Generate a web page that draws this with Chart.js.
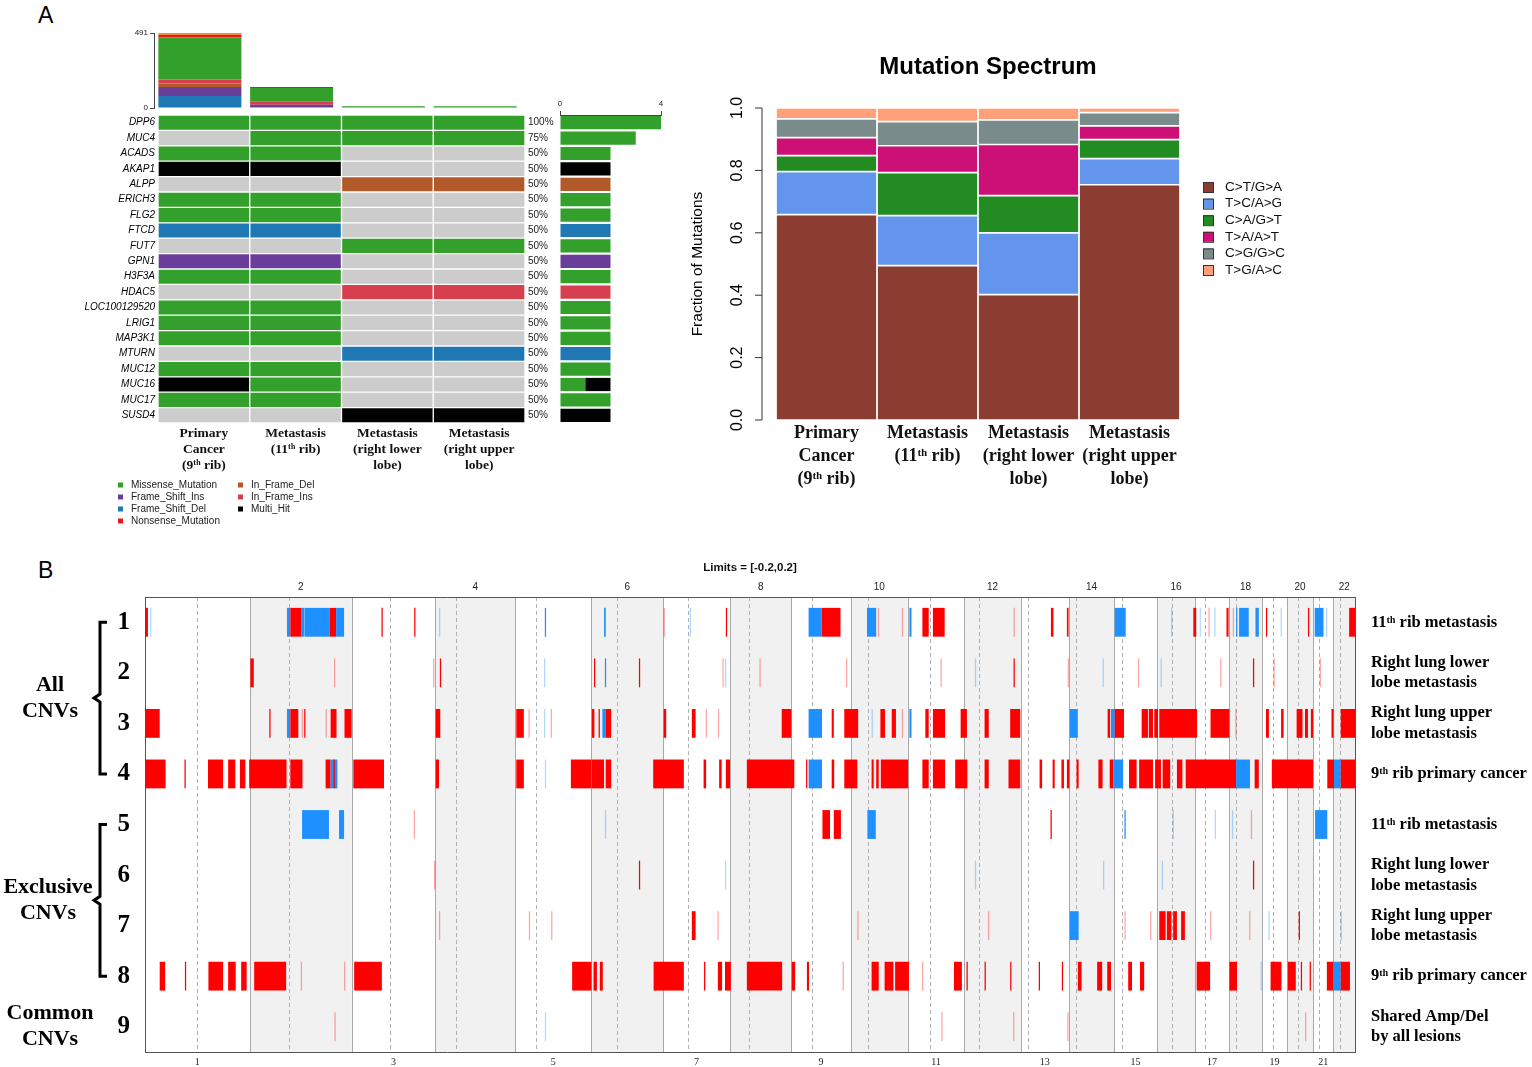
<!DOCTYPE html>
<html>
<head>
<meta charset="utf-8">
<script src="https://cdn.jsdelivr.net/npm/chart.js@4.4.0/dist/chart.umd.min.js"></script>
<style>
body { margin: 0; background: #fff; width: 1532px; height: 1067px; position: relative; overflow: hidden; font-family: "Liberation Sans", Arial, sans-serif; }
.box { position: absolute; }
.letter { position: absolute; font-size: 23px; color: #000; }
</style>
</head>
<body>
<div class="letter" style="left:38px;top:2px">A</div>
<div class="letter" style="left:38px;top:557px">B</div>
<div class="box" style="left:100px;top:20px;width:430px;height:95px"><canvas id="tmbChart"></canvas></div>
<div class="box" style="left:20px;top:112px;width:540px;height:420px"><canvas id="oncoChart"></canvas></div>
<div class="box" style="left:555px;top:90px;width:115px;height:340px"><canvas id="countChart"></canvas></div>
<div class="box" style="left:680px;top:40px;width:620px;height:460px"><canvas id="spectrumChart"></canvas></div>
<div class="box" style="left:0px;top:555px;width:1532px;height:512px"><canvas id="cnvChart"></canvas></div>
<script>
// ---- panel A: oncoplot data
var sampleIds = ["P9", "M11", "MRLL", "MRUL"];
var sampleLabels = [["Primary", "Cancer", "(9\u1d57\u02b0 rib)"], ["Metastasis", "(11\u1d57\u02b0 rib)"],
  ["Metastasis", "(right lower", "lobe)"], ["Metastasis", "(right upper", "lobe)"]];

var genes = ["DPP6", "MUC4", "ACADS", "AKAP1", "ALPP", "ERICH3", "FLG2", "FTCD", "FUT7", "GPN1",
  "H3F3A", "HDAC5", "LOC100129520", "LRIG1", "MAP3K1", "MTURN", "MUC12", "MUC16", "MUC17", "SUSD4"];
var primaryCalls = ["M", "", "M", "MH", "", "M", "M", "FSD", "", "FSI", "M", "", "M", "M", "M", "", "M", "MH", "M", ""];
var rib11Calls = ["M", "M", "M", "MH", "", "M", "M", "FSD", "", "FSI", "M", "", "M", "M", "M", "", "M", "M", "M", ""];
var lowerLobeCalls = ["M", "M", "", "", "IFD", "", "", "", "M", "", "", "IFI", "", "", "", "FSD", "", "", "", "MH"];
var upperLobeCalls = ["M", "M", "", "", "IFD", "", "", "", "M", "", "", "IFI", "", "", "", "FSD", "", "", "", "MH"];

var mutCodes = ["M", "FSI", "FSD", "NS", "IFD", "IFI", "MH"];
var mutNames = ["Missense_Mutation", "Frame_Shift_Ins", "Frame_Shift_Del", "Nonsense_Mutation", "In_Frame_Del", "In_Frame_Ins", "Multi_Hit"];
var mutColors = ["#33a02c", "#6a3d9a", "#1f78b4", "#e31a1c", "#b15928", "#d6404e", "#000000"];

// mutations per sample (stack bottom -> top)
var tmbMax = 491;
var tmbFSD = [78, 7, 0, 0];
var tmbFSI = [60, 15, 0, 0];
var tmbIFD = [22, 0, 6, 6];
var tmbIFI = [26, 22, 0, 0];
var tmbMissense = [275, 87, 6, 6];
var tmbNonsense = [18, 7, 0, 0];
var tmbOther = [12, 0, 0, 0];

// ---- panel A: mutation spectrum
var spectrumClasses = ["C>T/G>A", "T>C/A>G", "C>A/G>T", "T>A/A>T", "C>G/G>C", "T>G/A>C"];
var spectrumColors = ["#8a3d30", "#6495ed", "#228b22", "#cd1076", "#7a8b8b", "#ffa07a"];
var ctGa = [0.658, 0.495, 0.402, 0.754];
var tcAg = [0.138, 0.160, 0.198, 0.084];
var caGt = [0.051, 0.138, 0.119, 0.061];
var taAt = [0.058, 0.086, 0.164, 0.044];
var cgGc = [0.060, 0.077, 0.079, 0.042];
var tgAc = [0.035, 0.044, 0.038, 0.015];
var spectrumTicks = [0, 0.2, 0.4, 0.6, 0.8, 1.0];

// ---- panel B: CNV (hg19, Mb)
var chrNames = ["1", "2", "3", "4", "5", "6", "7", "8", "9", "10", "11", "12", "13", "14", "15", "16", "17", "18", "19", "20", "21", "22"];
var chrLen = [249.3, 243.2, 198.0, 191.2, 180.9, 171.1, 159.1, 146.4, 141.2, 135.5, 135.0, 133.9, 115.2, 107.3, 102.5, 90.4, 81.2, 78.1, 59.1, 63.0, 48.1, 51.3];
var chrCentromere = [125.0, 93.3, 91.0, 50.4, 48.4, 61.0, 59.9, 45.6, 49.0, 40.2, 53.7, 35.8, 17.9, 17.6, 19.0, 36.6, 24.0, 17.2, 26.5, 27.5, 13.2, 14.7];
var rowIds = ["1", "2", "3", "4", "5", "6", "7", "8", "9"];
var rowLabels = ["11\u1d57\u02b0 rib metastasis", ["Right lung lower", "lobe metastasis"], ["Right lung upper", "lobe metastasis"], "9\u1d57\u02b0 rib primary cancer",
  "11\u1d57\u02b0 rib metastasis", ["Right lung lower", "lobe metastasis"], ["Right lung upper", "lobe metastasis"], "9\u1d57\u02b0 rib primary cancer",
  ["Shared Amp/Del", "by all lesions"]];

// [start, end, level]  level >0 gain, <0 loss, 0.4 = weak
var cnvRow1 = [[0,7,1],[12,15,-0.4],[338,346,-1],[346,373,1],[373,380,-1],[381,440,-1],[440,455,1],[455,474,-1],[563,566,1],[641,644,1],[700,703,-0.4],[952,955,-1],[1093,1097,-1],[1235,1238,0.4],[1297,1300,-0.4],[1383,1386,1],[1580,1611,-1],[1611,1656,1],[1719,1741,-1],[1745,1748,0.4],[1802,1805,0.4],[1820,1825,-1],[1851,1866,1],[1876,1904,1],[2068,2071,0.4],[2157,2163,1],[2195,2199,1],[2309,2335,-1],[2443,2446,-0.4],[2496,2503,1],[2511,2514,-0.4],[2532,2535,0.4],[2546,2549,-0.4],[2575,2580,1],[2590,2593,0.4],[2598,2601,-1],[2605,2628,-1],[2644,2652,-1],[2669,2672,1],[2704,2707,-0.4],[2769,2772,1],[2785,2806,-1],[2812,2815,-0.4],[2867,2881,1]];
var cnvRow2 = [[251,259,1],[450,453,0.4],[686,689,0.4],[702,705,1],[950,953,-0.4],[1069,1072,1],[1095,1098,-1],[1176,1179,1],[1375,1378,0.4],[1381,1384,-0.4],[1463,1466,0.4],[1669,1672,0.4],[1894,1897,0.4],[1976,1979,-0.4],[2068,2071,1],[2197,2200,0.4],[2280,2283,-0.4],[2364,2367,0.4],[2418,2421,-0.4],[2560,2563,0.4],[2638,2641,1],[2687,2690,0.4],[2797,2800,0.4]];
var cnvRow3 = [[0,35,1],[296,299,1],[338,346,-1],[346,365,1],[373,376,0.4],[379,382,1],[430,433,0.4],[442,456,1],[475,492,1],[692,703,1],[884,902,1],[913,916,0.4],[950,953,-0.4],[966,969,0.4],[1064,1070,1],[1080,1083,1],[1089,1097,-1],[1097,1110,1],[1235,1241,1],[1302,1311,1],[1335,1338,0.4],[1364,1367,0.4],[1516,1539,1],[1580,1612,-1],[1635,1640,1],[1665,1698,1],[1730,1733,-0.4],[1751,1762,1],[1778,1788,1],[1802,1805,0.4],[1820,1825,-1],[1858,1866,1],[1876,1905,1],[1942,1957,1],[1999,2009,1],[2060,2084,1],[2202,2221,-1],[2292,2298,1],[2300,2309,-1],[2309,2331,1],[2373,2388,1],[2390,2400,1],[2403,2412,1],[2415,2505,1],[2537,2582,1],[2596,2599,0.4],[2669,2676,1],[2705,2711,1],[2742,2756,1],[2762,2769,1],[2776,2781,1],[2825,2830,1],[2847,2881,1]];
var cnvRow4 = [[0,49,1],[94,97,1],[150,186,1],[198,215,1],[226,239,1],[248,337,1],[346,375,1],[430,442,1],[442,458,-1],[449,452,1],[496,569,1],[692,700,1],[884,902,1],[952,955,-0.4],[1014,1063,1],[1064,1093,1],[1097,1110,1],[1210,1283,1],[1330,1336,1],[1367,1373,1],[1383,1393,1],[1433,1546,1],[1574,1577,1],[1580,1612,-1],[1635,1641,1],[1665,1696,1],[1730,1735,1],[1741,1747,1],[1752,1817,1],[1851,1866,1],[1876,1905,1],[1929,1958,1],[1999,2009,1],[2056,2084,1],[2130,2136,1],[2161,2166,1],[2182,2188,1],[2195,2201,1],[2218,2223,1],[2270,2280,1],[2297,2306,1],[2306,2329,-1],[2343,2361,1],[2367,2400,1],[2405,2419,1],[2423,2441,1],[2457,2470,1],[2478,2598,1],[2598,2631,-1],[2642,2652,1],[2683,2781,1],[2815,2831,1],[2831,2847,-1],[2847,2881,1]];
var cnvRow5 = [[374,438,-1],[462,474,-1],[640,643,0.4],[1095,1098,-0.4],[1613,1631,1],[1640,1657,1],[1720,1740,-1],[2156,2159,1],[2332,2335,-1],[2447,2450,-0.4],[2547,2550,-0.4],[2588,2591,-0.4],[2633,2636,0.4],[2786,2815,-1]];
var cnvRow6 = [[688,691,0.4],[1176,1179,1],[1381,1384,-0.4],[1976,1979,-0.4],[2281,2284,-0.4],[2421,2424,-0.4],[2638,2641,1]];
var cnvRow7 = [[700,703,0.4],[914,917,0.4],[967,970,0.4],[1302,1311,1],[1363,1366,0.4],[1696,1699,0.4],[2007,2010,0.4],[2202,2223,-1],[2332,2335,0.4],[2393,2396,0.4],[2415,2430,1],[2433,2444,1],[2448,2457,1],[2467,2476,1],[2536,2539,0.4],[2629,2632,0.4],[2675,2678,-0.4],[2747,2750,1],[2847,2850,-0.4]];
var cnvRow8 = [[35,48,1],[95,98,1],[151,186,1],[198,216,1],[229,242,1],[260,336,1],[371,374,0.4],[474,477,0.4],[498,564,1],[1017,1063,1],[1068,1076,1],[1083,1090,1],[1211,1283,1],[1331,1334,1],[1364,1374,1],[1381,1395,1],[1433,1517,1],[1540,1548,1],[1576,1581,1],[1661,1664,0.4],[1730,1747,1],[1761,1782,1],[1786,1819,1],[1850,1853,0.4],[1926,1945,1],[1956,1959,1],[1999,2002,1],[2060,2063,1],[2128,2131,1],[2183,2186,1],[2221,2230,1],[2267,2279,1],[2291,2300,1],[2341,2350,1],[2369,2379,1],[2504,2536,1],[2582,2600,1],[2656,2659,-0.4],[2680,2706,1],[2721,2740,1],[2752,2755,1],[2773,2776,1],[2814,2830,1],[2830,2847,-1],[2847,2869,1]];
var cnvRow9 = [[451,454,0.4],[952,955,-0.4],[1896,1899,0.4],[2067,2070,0.4],[2196,2199,0.4],[2762,2765,0.4]];

var SERIF = '"Liberation Serif", "DejaVu Serif", serif';
var SANS = '"Liberation Sans", Arial, sans-serif';
Chart.defaults.font.family = SANS;
Chart.defaults.color = '#000';
Chart.defaults.animation = false;
Chart.defaults.plugins.legend.display = false;
Chart.defaults.plugins.tooltip.enabled = false;
Chart.defaults.responsive = true;
Chart.defaults.maintainAspectRatio = false;

// fixed axis sizes so the plot areas land where the figure has them
function fixWidth(w) { return function(s) { s.width = w; s.paddingTop = 0; s.paddingBottom = 0; }; }
function fixHeight(h) { return function(s) { s.height = h; s.paddingLeft = 0; s.paddingRight = 0; }; }
function setTicks(vals) { return function(s) { s.ticks = vals.map(function(v) { return { value: v }; }); }; }
function mutColor(code) { return code ? mutColors[mutCodes.indexOf(code)] : '#cccccc'; }

var callsBySample = [primaryCalls, rib11Calls, lowerLobeCalls, upperLobeCalls];

// top bar: mutation load per sample
var tmbSeries = [tmbFSD, tmbFSI, tmbIFD, tmbIFI, tmbMissense, tmbNonsense, tmbOther];
var tmbColors = ["#1f78b4", "#6a3d9a", "#b15928", "#d6404e", "#33a02c", "#e31a1c", "#ff8c1a"];
new Chart(document.getElementById('tmbChart'), {
  type: 'bar',
  data: {
    labels: sampleIds,
    datasets: tmbSeries.map(function(d, i) {
      return { data: d, backgroundColor: tmbColors[i], barPercentage: 0.905, categoryPercentage: 1 };
    })
  },
  options: {
    layout: { padding: { left: 0, right: 9, top: 13, bottom: 7 } },
    scales: {
      x: { display: false, stacked: true },
      y: { stacked: true, min: 0, max: tmbMax, afterBuildTicks: setTicks([0, tmbMax]), afterFit: fixWidth(54),
        grid: { drawOnChartArea: false, tickLength: 4, color: '#444' }, border: { color: '#444' },
        ticks: { font: { size: 8 }, padding: 2, color: '#222' } }
    }
  }
});

// oncoplot grid
new Chart(document.getElementById('oncoChart'), {
  type: 'bar',
  data: {
    labels: genes,
    datasets: callsBySample.map(function(calls) {
      return {
        data: calls.map(function() { return 1; }),
        backgroundColor: calls.map(mutColor),
        borderColor: 'rgba(255,255,255,0.55)', borderWidth: 1, borderSkipped: false,
        barPercentage: 1, categoryPercentage: 1
      };
    })
  },
  options: {
    indexAxis: 'y',
    layout: { padding: { left: 0, right: 0, top: 3, bottom: 57 } },
    scales: {
      x: { stacked: true, min: 0, max: 4, afterBuildTicks: setTicks([0.5, 1.5, 2.5, 3.5]), afterFit: fixHeight(52),
        grid: { display: false, drawTicks: false }, border: { display: false },
        ticks: { autoSkip: false, maxRotation: 0, padding: 2, color: '#111',
          callback: function(v, i) { return sampleLabels[i]; },
          font: { family: SERIF, size: 13.5, weight: 'bold', lineHeight: 1.2 } } },
      y: { stacked: true, afterFit: fixWidth(138), grid: { display: false, drawTicks: false }, border: { display: false },
        ticks: { padding: 3, font: { size: 10, style: 'italic' } } },
      y2: { type: 'category', labels: genes, offset: true, position: 'right', afterFit: fixWidth(35),
        grid: { display: false, drawTicks: false }, border: { display: false },
        ticks: { padding: 3, font: { size: 10 }, color: '#222',
          callback: function(v, i) {
            var n = callsBySample.filter(function(c) { return c[i] !== ''; }).length;
            return Math.round(n / callsBySample.length * 100) + '%';
          } } }
    }
  },
  plugins: [{
    id: 'oncoLegend',
    afterDraw: function(chart) {
      var ctx = chart.ctx, ca = chart.chartArea;
      var cols = [[0, 1, 2, 3], [4, 5, 6]];
      ctx.save();
      ctx.font = '10px ' + SANS;
      ctx.textBaseline = 'middle';
      cols.forEach(function(items, c) {
        var lx = ca.left - 40 + c * 120;
        items.forEach(function(k, r) {
          var ly = ca.bottom + 62 + r * 12;
          ctx.fillStyle = mutColors[k];
          ctx.fillRect(lx, ly - 2.5, 5, 5);
          ctx.fillStyle = '#222';
          ctx.fillText(mutNames[k], lx + 13, ly);
        });
      });
      ctx.restore();
    }
  }]
});

// per-gene counts on the right
new Chart(document.getElementById('countChart'), {
  type: 'bar',
  data: {
    labels: genes,
    datasets: mutCodes.map(function(code, k) {
      return {
        data: genes.map(function(g, gi) {
          return callsBySample.filter(function(c) { return c[gi] === code; }).length;
        }),
        backgroundColor: mutColors[k], barPercentage: 0.86, categoryPercentage: 1
      };
    })
  },
  options: {
    indexAxis: 'y',
    layout: { padding: { left: 5, right: 9, top: 0, bottom: 7 } },
    scales: {
      x: { position: 'top', stacked: true, min: 0, max: 4, afterBuildTicks: setTicks([0, 4]), afterFit: fixHeight(25),
        grid: { drawOnChartArea: false, tickLength: 4, color: '#444' }, border: { color: '#444' },
        ticks: { font: { size: 8 }, padding: 2, color: '#222' } },
      y: { display: false, stacked: true }
    }
  }
});

// mutation spectrum
var spectrumSeries = [ctGa, tcAg, caGt, taAt, cgGc, tgAc];
new Chart(document.getElementById('spectrumChart'), {
  type: 'bar',
  data: {
    labels: sampleIds,
    datasets: spectrumSeries.map(function(d, i) {
      return { label: spectrumClasses[i], data: d, backgroundColor: spectrumColors[i],
        borderColor: '#ffffff', borderWidth: 1.2, borderSkipped: false, barPercentage: 1, categoryPercentage: 1 };
    })
  },
  options: {
    layout: { padding: { left: 96, right: 120, top: 68, bottom: 0 } },
    scales: {
      x: { stacked: true, afterFit: fixHeight(80), grid: { display: false, drawTicks: false }, border: { display: false },
        ticks: { autoSkip: false, maxRotation: 0, padding: 2, color: '#111',
          callback: function(v, i) { return sampleLabels[i]; },
          font: { family: SERIF, size: 18, weight: 'bold', lineHeight: 1.27 } } },
      y: { display: false, stacked: true, min: 0, max: 1 }
    }
  },
  plugins: [{
    id: 'spectrumDecor',
    afterDraw: function(chart) {
      var ctx = chart.ctx, ca = chart.chartArea, y = chart.scales.y;
      var ax = ca.left - 14;
      ctx.save();
      ctx.strokeStyle = '#333';
      ctx.lineWidth = 1;
      ctx.beginPath();
      ctx.moveTo(ax, y.getPixelForValue(0));
      ctx.lineTo(ax, y.getPixelForValue(1));
      spectrumTicks.forEach(function(v) {
        var py = y.getPixelForValue(v);
        ctx.moveTo(ax, py);
        ctx.lineTo(ax - 7, py);
      });
      ctx.stroke();
      ctx.fillStyle = '#000';
      ctx.font = '16px ' + SANS;
      ctx.textAlign = 'center';
      ctx.textBaseline = 'bottom';
      spectrumTicks.forEach(function(v) {
        ctx.save();
        ctx.translate(ax - 16, y.getPixelForValue(v));
        ctx.rotate(-Math.PI / 2);
        ctx.fillText(v.toFixed(1), 0, 0);
        ctx.restore();
      });
      ctx.save();
      ctx.translate(ca.left - 78, (ca.top + ca.bottom) / 2);
      ctx.rotate(-Math.PI / 2);
      ctx.textBaseline = 'middle';
      ctx.font = '15.5px ' + SANS;
      ctx.fillText('Fraction of Mutations', 0, 0);
      ctx.restore();
      ctx.font = 'bold 24px ' + SANS;
      ctx.textBaseline = 'middle';
      ctx.fillText('Mutation Spectrum', (ca.left + ca.right) / 2 + 10, ca.top - 41);
      // legend
      ctx.textAlign = 'left';
      ctx.font = '13.5px ' + SANS;
      spectrumClasses.forEach(function(name, i) {
        var lx = ca.right + 23, ly = ca.top + 79 + i * 16.6;
        ctx.fillStyle = spectrumColors[i];
        ctx.fillRect(lx, ly - 5, 10, 10);
        ctx.strokeStyle = '#333';
        ctx.strokeRect(lx + 0.5, ly - 4.5, 10, 10);
        ctx.fillStyle = '#111';
        ctx.fillText(name, lx + 22, ly);
      });
      ctx.restore();
    }
  }]
});

// ---- panel B
var chrStart = [];
var genomeLen = 0;
chrLen.forEach(function(l) { chrStart.push(genomeLen); genomeLen += l; });
var chrMid = chrStart.map(function(s, i) { return s + chrLen[i] / 2; });
var oddMid = chrMid.filter(function(m, i) { return i % 2 === 0; });
var evenMid = chrMid.filter(function(m, i) { return i % 2 === 1; });
var oddNames = chrNames.filter(function(n, i) { return i % 2 === 0; });
var evenNames = chrNames.filter(function(n, i) { return i % 2 === 1; });

var cnvRows = [cnvRow1, cnvRow2, cnvRow3, cnvRow4, cnvRow5, cnvRow6, cnvRow7, cnvRow8, cnvRow9];
var cnvPoints = [];
cnvRows.forEach(function(segs, r) {
  segs.forEach(function(s) { cnvPoints.push({ y: rowIds[r], x: [s[0], s[1]], v: s[2] }); });
});

function cnvColor(c) {
  var v = c.raw ? c.raw.v : 1;
  if (v >= 1) return '#ff0000';
  if (v > 0) return 'rgba(255,0,0,0.35)';
  if (v <= -1) return '#1e90ff';
  return 'rgba(30,144,255,0.35)';
}

new Chart(document.getElementById('cnvChart'), {
  type: 'bar',
  data: {
    labels: rowIds,
    datasets: [{ data: cnvPoints, backgroundColor: cnvColor, borderWidth: 0, barPercentage: 0.57, categoryPercentage: 1 }]
  },
  options: {
    indexAxis: 'y',
    layout: { padding: { left: 0, right: 0, top: 16, bottom: 0 } },
    scales: {
      x: { type: 'linear', min: 0, max: genomeLen, afterBuildTicks: setTicks(oddMid), afterFit: fixHeight(15),
        grid: { display: false, drawTicks: false }, border: { color: '#555' },
        ticks: { autoSkip: false, maxRotation: 0, padding: 4, color: '#222', font: { family: SERIF, size: 10 },
          callback: function(v, i) { return oddNames[i]; } } },
      x2: { type: 'linear', position: 'top', min: 0, max: genomeLen, afterBuildTicks: setTicks(evenMid), afterFit: fixHeight(26),
        grid: { display: false, drawTicks: false }, border: { color: '#555' },
        ticks: { autoSkip: false, maxRotation: 0, padding: 4, color: '#222', font: { size: 10 },
          callback: function(v, i) { return evenNames[i]; } } },
      y: { afterFit: fixWidth(145), grid: { display: false, drawTicks: false }, border: { color: '#555' },
        ticks: { padding: 15, font: { family: SERIF, size: 25, weight: 'bold' } } },
      y2: { type: 'category', labels: rowIds, offset: true, position: 'right', afterFit: fixWidth(177),
        grid: { display: false, drawTicks: false }, border: { color: '#555' },
        ticks: { padding: 16, font: { family: SERIF, size: 16.5, weight: 'bold', lineHeight: 1.25 },
          callback: function(v, i) { return rowLabels[i]; } } }
    }
  },
  plugins: [{
    id: 'genomeBackground',
    beforeDraw: function(chart) {
      var ctx = chart.ctx, ca = chart.chartArea, x = chart.scales.x;
      ctx.save();
      chrStart.forEach(function(s, i) {
        if (i % 2 === 1) {
          var x0 = x.getPixelForValue(s), x1 = x.getPixelForValue(s + chrLen[i]);
          ctx.fillStyle = '#f1f1f1';
          ctx.fillRect(x0, ca.top, x1 - x0, ca.bottom - ca.top);
        }
      });
      ctx.strokeStyle = '#a9a9a9';
      ctx.lineWidth = 1;
      ctx.beginPath();
      chrStart.forEach(function(s, i) {
        if (i === 0) return;
        var px = Math.round(x.getPixelForValue(s)) + 0.5;
        ctx.moveTo(px, ca.top);
        ctx.lineTo(px, ca.bottom);
      });
      ctx.stroke();
      ctx.setLineDash([4, 3]);
      ctx.strokeStyle = '#b0b0b0';
      ctx.beginPath();
      chrStart.forEach(function(s, i) {
        var px = Math.round(x.getPixelForValue(s + chrCentromere[i])) + 0.5;
        ctx.moveTo(px, ca.top);
        ctx.lineTo(px, ca.bottom);
      });
      ctx.stroke();
      ctx.restore();
    },
    afterDraw: function(chart) {
      var ctx = chart.ctx, ca = chart.chartArea, y = chart.scales.y;
      ctx.save();
      ctx.fillStyle = '#111';
      ctx.font = 'bold 11.5px ' + SANS;
      ctx.textAlign = 'center';
      ctx.textBaseline = 'middle';
      ctx.fillText('Limits = [-0.2,0.2]', (ca.left + ca.right) / 2, ca.top - 29);
      // group brackets
      ctx.strokeStyle = '#000';
      ctx.lineWidth = 3;
      [[0, 3], [4, 7]].forEach(function(g) {
        var top = y.getPixelForValue(g[0]), bot = y.getPixelForValue(g[1]), mid = (top + bot) / 2;
        ctx.beginPath();
        ctx.moveTo(107, top);
        ctx.lineTo(100, top);
        ctx.lineTo(100, mid - 4);
        ctx.lineTo(94, mid);
        ctx.lineTo(100, mid + 4);
        ctx.lineTo(100, bot);
        ctx.lineTo(107, bot);
        ctx.stroke();
      });
      ctx.fillStyle = '#000';
      ctx.font = 'bold 22px ' + SERIF;
      var groups = [[['All', 'CNVs'], 1.5, 50], [['Exclusive', 'CNVs'], 5.5, 48], [['Common', 'CNVs'], 8, 50]];
      groups.forEach(function(g) {
        var cy = y.getPixelForValue(g[1]);
        ctx.fillText(g[0][0], g[2], cy - 13);
        ctx.fillText(g[0][1], g[2], cy + 13);
      });
      ctx.restore();
    }
  }]
});
</script>
</body>
</html>
